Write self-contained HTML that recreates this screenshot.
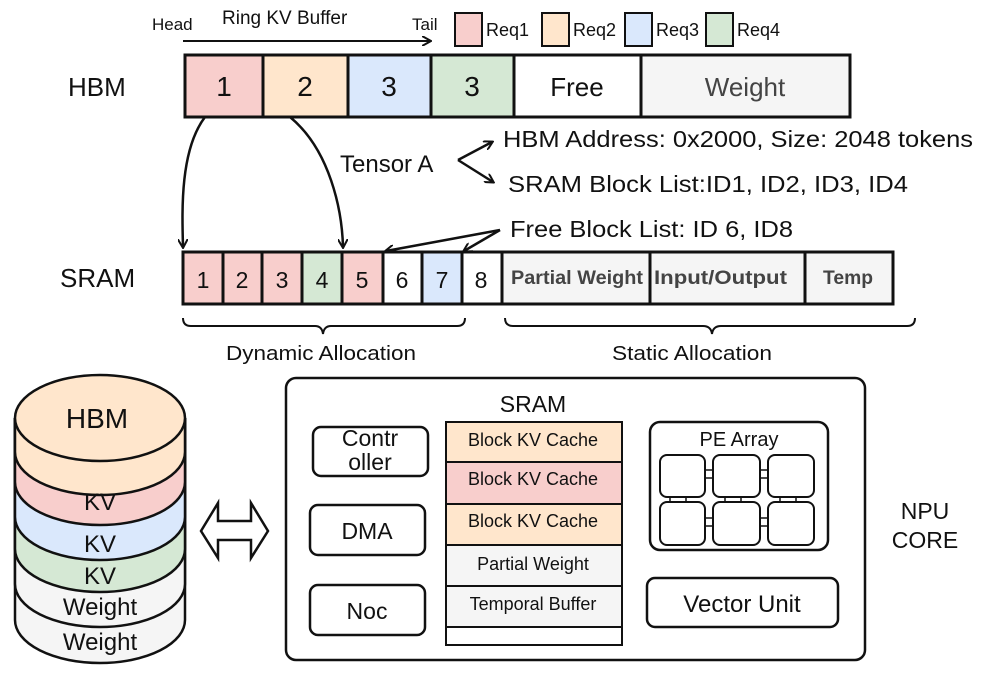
<!DOCTYPE html>
<html><head><meta charset="utf-8"><style>
html,body{margin:0;padding:0;background:#fff}
svg{display:block}
text{font-family:"Liberation Sans",sans-serif;fill:#111}
</style></head><body>
<svg width="997" height="692" viewBox="0 0 997 692" xmlns="http://www.w3.org/2000/svg">
<defs>
<marker id="ah" markerWidth="10" markerHeight="10" refX="8" refY="5" orient="auto" markerUnits="userSpaceOnUse">
<path d="M0,0 L9,5 L0,10" fill="none" stroke="#111" stroke-width="2"/></marker>
</defs>
<text x="152" y="30" font-size="17">Head</text>
<text x="222" y="24" font-size="19">Ring KV Buffer</text>
<text x="412" y="30" font-size="17">Tail</text>
<line x1="183" y1="41" x2="430" y2="41" stroke="#111" stroke-width="2" marker-end="url(#ah)"/>
<rect x="455" y="13" width="27" height="33" fill="#f8cecc" stroke="#111" stroke-width="2"/>
<text x="486" y="36" font-size="18">Req1</text>
<rect x="542" y="13" width="27" height="33" fill="#ffe6cc" stroke="#111" stroke-width="2"/>
<text x="573" y="36" font-size="18">Req2</text>
<rect x="625" y="13" width="27" height="33" fill="#dae8fc" stroke="#111" stroke-width="2"/>
<text x="656" y="36" font-size="18">Req3</text>
<rect x="706" y="13" width="27" height="33" fill="#d5e8d4" stroke="#111" stroke-width="2"/>
<text x="737" y="36" font-size="18">Req4</text>

<text x="68" y="96" font-size="26">HBM</text>
<g stroke="#111" stroke-width="3">
<rect x="185" y="55" width="78" height="62" fill="#f8cecc"/>
<rect x="263" y="55" width="85" height="62" fill="#ffe6cc"/>
<rect x="348" y="55" width="83" height="62" fill="#dae8fc"/>
<rect x="431" y="55" width="83" height="62" fill="#d5e8d4"/>
<rect x="514" y="55" width="127" height="62" fill="#fff"/>
<rect x="641" y="55" width="209" height="62" fill="#f5f5f5"/>
</g>
<g font-size="28" text-anchor="middle">
<text x="224" y="96">1</text><text x="305" y="96">2</text><text x="389" y="96">3</text><text x="472" y="96">3</text>
<text x="577" y="96" font-size="26">Free</text><text x="745" y="96" font-size="26" style="fill:#444">Weight</text>
</g>
<path d="M205,117 C180,150 182,210 183,247" fill="none" stroke="#111" stroke-width="2.5" marker-end="url(#ah)"/>
<path d="M290,117 C330,150 342,210 343,247" fill="none" stroke="#111" stroke-width="2.5" marker-end="url(#ah)"/>
<text x="340" y="172" font-size="24">Tensor A</text>
<line x1="458" y1="160" x2="492" y2="142" stroke="#111" stroke-width="2.5" marker-end="url(#ah)"/>
<line x1="458" y1="160" x2="493" y2="182" stroke="#111" stroke-width="2.5" marker-end="url(#ah)"/>
<text x="503" y="147" font-size="23" textLength="470" lengthAdjust="spacingAndGlyphs">HBM Address: 0x2000, Size: 2048 tokens</text>
<text x="508" y="192" font-size="23" textLength="400" lengthAdjust="spacingAndGlyphs">SRAM Block List:ID1, ID2, ID3, ID4</text>
<text x="510" y="237" font-size="23" textLength="283" lengthAdjust="spacingAndGlyphs">Free Block List: ID 6, ID8</text>
<line x1="500" y1="230" x2="386" y2="251" stroke="#111" stroke-width="2.5" marker-end="url(#ah)"/>
<line x1="500" y1="230" x2="464" y2="251" stroke="#111" stroke-width="2.5" marker-end="url(#ah)"/>

<text x="60" y="287" font-size="26">SRAM</text>
<g stroke="#111" stroke-width="3">
<rect x="183" y="252" width="40" height="52" fill="#f8cecc"/>
<rect x="223" y="252" width="39" height="52" fill="#f8cecc"/>
<rect x="262" y="252" width="40" height="52" fill="#f8cecc"/>
<rect x="302" y="252" width="40" height="52" fill="#d5e8d4"/>
<rect x="342" y="252" width="41" height="52" fill="#f8cecc"/>
<rect x="383" y="252" width="39" height="52" fill="#fff"/>
<rect x="422" y="252" width="40" height="52" fill="#dae8fc"/>
<rect x="462" y="252" width="40" height="52" fill="#fff"/>
<rect x="502" y="252" width="148" height="52" fill="#f5f5f5"/>
<rect x="650" y="252" width="155" height="52" fill="#f5f5f5"/>
<rect x="805" y="252" width="88" height="52" fill="#f5f5f5"/>
</g>
<g font-size="23" text-anchor="middle">
<text x="203" y="288">1</text><text x="242" y="288">2</text><text x="282" y="288">3</text><text x="322" y="288">4</text>
<text x="362" y="288">5</text><text x="402" y="288">6</text><text x="442" y="288">7</text><text x="481" y="288">8</text>
</g>
<g font-size="19" font-weight="bold">
<text x="511" y="284" style="fill:#444" textLength="132" lengthAdjust="spacingAndGlyphs">Partial Weight</text>
<text x="654" y="284" style="fill:#444" textLength="133" lengthAdjust="spacingAndGlyphs">Input/Output</text>
<text x="823" y="284" style="fill:#444" textLength="50" lengthAdjust="spacingAndGlyphs">Temp</text>
</g>
<path d="M183,318 Q183,326 191,326 L315,326 Q322,326 323,334 Q324,326 331,326 L457,326 Q465,326 465,318" fill="none" stroke="#111" stroke-width="2"/>
<path d="M505,318 Q505,326 513,326 L703,326 Q711,326 712,334 Q713,326 721,326 L907,326 Q915,326 915,318" fill="none" stroke="#111" stroke-width="2"/>
<text x="226" y="360" font-size="20" textLength="190" lengthAdjust="spacingAndGlyphs">Dynamic Allocation</text>
<text x="612" y="360" font-size="20" textLength="160" lengthAdjust="spacingAndGlyphs">Static Allocation</text>

<g stroke="#111" stroke-width="2.5">
<path d="M15,418 L15,620 A85,43 0 0 0 185,620 L185,418" fill="#f5f5f5"/>
<path d="M15,418 L15,584 A85,43 0 0 0 185,584 L185,418" fill="#f5f5f5"/>
<path d="M15,418 L15,549 A85,43 0 0 0 185,549 L185,418" fill="#d5e8d4"/>
<path d="M15,418 L15,517 A85,43 0 0 0 185,517 L185,418" fill="#dae8fc"/>
<path d="M15,418 L15,482 A85,43 0 0 0 185,482 L185,418" fill="#f8cecc"/>
<path d="M15,418 L15,452 A85,43 0 0 0 185,452 L185,418" fill="#ffe6cc"/>
<ellipse cx="100" cy="418" rx="85" ry="43" fill="#ffe6cc"/>
</g>
<g text-anchor="middle" font-size="24">
<text x="97" y="428" font-size="28">HBM</text>
<text x="100" y="510">KV</text><text x="100" y="552">KV</text><text x="100" y="584">KV</text>
<text x="100" y="615">Weight</text><text x="100" y="650">Weight</text>
</g>
<path d="M201,531 L218,503 L218,521 L251,521 L251,503 L268,531 L251,558 L251,540 L218,540 L218,558 Z" fill="#fff" stroke="#111" stroke-width="2.5"/>

<rect x="286" y="378" width="579" height="282" rx="10" fill="#fff" stroke="#111" stroke-width="2.5"/>
<text x="533" y="412" font-size="23" text-anchor="middle">SRAM</text>
<g stroke="#111" stroke-width="2.5" fill="#fff">
<rect x="313" y="427" width="115" height="49" rx="8"/>
<rect x="310" y="505" width="115" height="50" rx="8"/>
<rect x="310" y="585" width="115" height="50" rx="8"/>
</g>
<g text-anchor="middle" font-size="23">
<text x="370" y="446">Contr</text><text x="370" y="470">oller</text>
<text x="367" y="539">DMA</text><text x="367" y="619">Noc</text>
</g>
<g stroke="#111" stroke-width="2">
<rect x="446" y="422" width="176" height="40" fill="#ffe6cc"/>
<rect x="446" y="462" width="176" height="42" fill="#f8cecc"/>
<rect x="446" y="504" width="176" height="41" fill="#ffe6cc"/>
<rect x="446" y="545" width="176" height="41" fill="#f5f5f5"/>
<rect x="446" y="586" width="176" height="41" fill="#f5f5f5"/>
<rect x="446" y="627" width="176" height="18" fill="#fff"/>
</g>
<g text-anchor="middle" font-size="18">
<text x="533" y="446">Block KV Cache</text><text x="533" y="485">Block KV Cache</text>
<text x="533" y="527">Block KV Cache</text><text x="533" y="570">Partial Weight</text>
<text x="533" y="610">Temporal  Buffer</text>
</g>
<rect x="650" y="422" width="178" height="128" rx="10" fill="#fff" stroke="#111" stroke-width="2.5"/>
<text x="739" y="446" font-size="20" text-anchor="middle">PE Array</text>
<g stroke="#111" stroke-width="1.5" fill="#fff">
<rect x="705" y="470" width="8" height="8"/><rect x="760" y="470" width="8" height="8"/>
<rect x="705" y="518" width="8" height="8"/><rect x="760" y="518" width="8" height="8"/>
<rect x="670" y="497" width="16" height="5"/><rect x="725" y="497" width="16" height="5"/><rect x="780" y="497" width="16" height="5"/>
</g>
<g stroke="#111" stroke-width="2" fill="#fff">
<rect x="660" y="455" width="45" height="42" rx="7"/><rect x="713" y="455" width="47" height="42" rx="7"/><rect x="768" y="455" width="46" height="42" rx="7"/>
<rect x="660" y="502" width="45" height="43" rx="7"/><rect x="713" y="502" width="47" height="43" rx="7"/><rect x="768" y="502" width="46" height="43" rx="7"/>
</g>
<rect x="647" y="578" width="191" height="49" rx="8" fill="#fff" stroke="#111" stroke-width="2.5"/>
<text x="742" y="612" font-size="24" text-anchor="middle">Vector Unit</text>
<text x="925" y="519" font-size="23" text-anchor="middle">NPU</text>
<text x="925" y="548" font-size="23" text-anchor="middle">CORE</text>
</svg>
</body></html>
